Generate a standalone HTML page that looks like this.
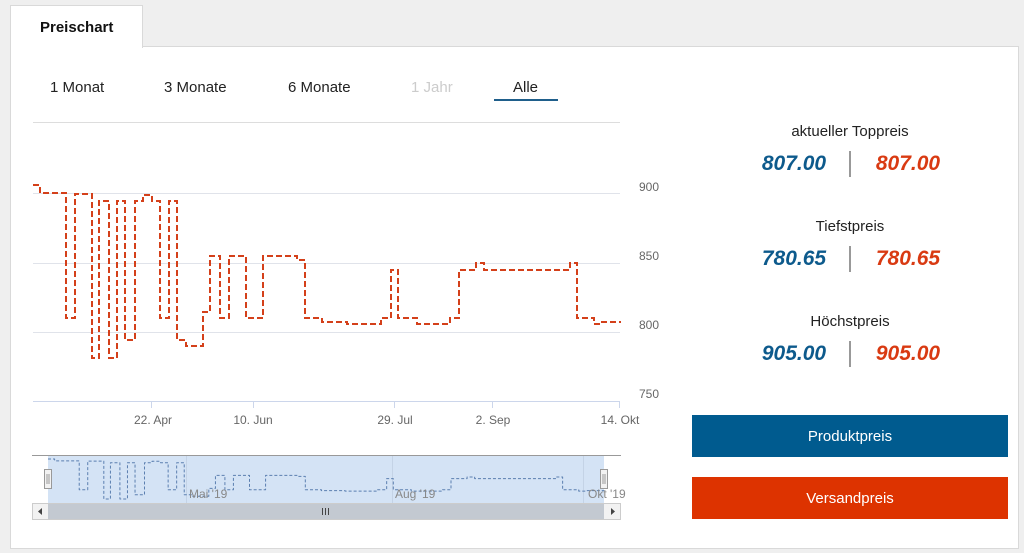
<!DOCTYPE html>
<html><head><meta charset="utf-8">
<style>
body{margin:0;width:1024px;height:553px;background:#efefef;font-family:"Liberation Sans",sans-serif;position:relative;overflow:hidden}
.panel{position:absolute;left:10px;top:46px;width:1007px;height:501px;background:#fff;border:1px solid #d9d9d9}
.tab{position:absolute;left:10px;top:5px;width:131px;height:42px;background:#fff;border:1px solid #d9d9d9;border-bottom:none;z-index:2}
.tab span{position:absolute;left:29px;top:13px;font-weight:bold;font-size:15px;color:#111}
.r{position:absolute;top:79px;font-size:15px;color:#222}
.lbl{position:absolute;width:200px;left:750px;text-align:center;font-size:15px;color:#222}
.val{position:absolute;font-size:21px;font-weight:bold;font-style:italic;width:120px;text-align:center}
.sep{position:absolute;left:849px;width:2px;height:26px;background:#999}
.btn{position:absolute;left:692px;width:316px;height:42px;color:#fff;font-size:15px;text-align:center;line-height:44px}
</style></head><body>
<div class="panel"></div>
<div class="tab"><span>Preischart</span></div>
<div class="r" style="left:50px">1 Monat</div>
<div class="r" style="left:164px">3 Monate</div>
<div class="r" style="left:288px">6 Monate</div>
<div class="r" style="left:411px;color:#ccc">1 Jahr</div>
<div class="r" style="left:513px">Alle</div>
<div style="position:absolute;left:494px;top:99px;width:64px;height:2px;background:#1f5f8b"></div>

<svg width="1024" height="553" style="position:absolute;left:0;top:0" font-family="Liberation Sans, sans-serif">
<line x1="33" y1="122.5" x2="620" y2="122.5" stroke="#ddd"/>
<g stroke="#e0e3ea" stroke-width="1">
<line x1="33" y1="193.5" x2="620" y2="193.5"/>
<line x1="33" y1="263.5" x2="620" y2="263.5"/>
<line x1="33" y1="332.5" x2="620" y2="332.5"/>
</g>
<line x1="33" y1="401.5" x2="620" y2="401.5" stroke="#ccd6eb"/>
<g stroke="#ccd6eb"><line x1="151.5" y1="402" x2="151.5" y2="408"/><line x1="253.5" y1="402" x2="253.5" y2="408"/><line x1="394.5" y1="402" x2="394.5" y2="408"/><line x1="492.5" y1="402" x2="492.5" y2="408"/><line x1="619.5" y1="402" x2="619.5" y2="408"/></g>
<g font-size="12" fill="#666">
<text x="639" y="191">900</text><text x="639" y="260">850</text><text x="639" y="329">800</text><text x="639" y="398">750</text>
<text x="153" y="424" text-anchor="middle">22. Apr</text>
<text x="253" y="424" text-anchor="middle">10. Jun</text>
<text x="395" y="424" text-anchor="middle">29. Jul</text>
<text x="493" y="424" text-anchor="middle">2. Sep</text>
<text x="620" y="424" text-anchor="middle">14. Okt</text>
</g>
<path fill="none" stroke="#d4401a" stroke-width="2" stroke-dasharray="6,3" d="M33,185 H40 V193 H66 V318 H75 V194 H92 V358 H99 V201 H109 V358 H117 V201 H125 V340 H135 V201 H143 V195 H152 V201 H160 V318 H169 V201 H177 V340 H186 V346 H203 V312 H210 V256 H220 V318 H229 V256 H246 V318 H263 V256 H297 V260 H305 V318 H322 V322 H347 V324 H381 V318 H391 V270 H398 V318 H417 V324 H450 V318 H459 V270 H476 V263 H484 V270 H570 V263 H577 V318 H594 V324 H602 V322 H621"/>

<line x1="32" y1="455.5" x2="621" y2="455.5" stroke="#999"/>
<rect x="48" y="456" width="556" height="47" fill="#d4e3f5"/>
<g stroke="#c4d3e6"><line x1="186.5" y1="456" x2="186.5" y2="503"/><line x1="392.5" y1="456" x2="392.5" y2="503"/><line x1="583.5" y1="456" x2="583.5" y2="503"/></g>
<g transform="translate(48 459) scale(0.946 0.231) translate(-33 -185)">
<path fill="none" stroke="#5b7fb0" stroke-width="1" stroke-dasharray="3,2" stroke-linejoin="round" vector-effect="non-scaling-stroke" d="M33,185 H40 V193 H66 V318 H75 V194 H92 V358 H99 V201 H109 V358 H117 V201 H125 V340 H135 V201 H143 V195 H152 V201 H160 V318 H169 V201 H177 V340 H186 V346 H203 V312 H210 V256 H220 V318 H229 V256 H246 V318 H263 V256 H297 V260 H305 V318 H322 V322 H347 V324 H381 V318 H391 V270 H398 V318 H417 V324 H450 V318 H459 V270 H476 V263 H484 V270 H570 V263 H577 V318 H594 V324 H602 V322 H621"/>
</g>
<g font-size="12" fill="#888"><text x="189" y="498">Mai '19</text><text x="395" y="498">Aug '19</text><text x="588" y="498">Okt '19</text></g>
<rect x="44.5" y="469.5" width="7" height="19" fill="#f2f2f2" stroke="#999"/>
<rect x="600.5" y="469.5" width="7" height="19" fill="#f2f2f2" stroke="#999"/>
<g stroke="#999"><line x1="47" y1="474" x2="47" y2="484"/><line x1="49" y1="474" x2="49" y2="484"/><line x1="603" y1="474" x2="603" y2="484"/><line x1="605" y1="474" x2="605" y2="484"/></g>
<rect x="32.5" y="503.5" width="588" height="16" fill="#f2f2f2" stroke="#ccc"/>
<rect x="48" y="504" width="556" height="15" fill="#c3c9d1"/>
<g stroke="#444"><line x1="322.5" y1="508" x2="322.5" y2="515"/><line x1="325.5" y1="508" x2="325.5" y2="515"/><line x1="328.5" y1="508" x2="328.5" y2="515"/></g>
<path d="M42,508 L38,511.5 L42,515Z" fill="#444"/><path d="M611,508 L615,511.5 L611,515Z" fill="#444"/>
</svg>

<div class="lbl" style="top:123px">aktueller Toppreis</div>
<div class="val" style="left:734px;top:152px;color:#0d5a8c">807.00</div>
<div class="sep" style="top:151px"></div>
<div class="val" style="left:848px;top:152px;color:#d93a12">807.00</div>
<div class="lbl" style="top:218px">Tiefstpreis</div>
<div class="val" style="left:734px;top:247px;color:#0d5a8c">780.65</div>
<div class="sep" style="top:246px"></div>
<div class="val" style="left:848px;top:247px;color:#d93a12">780.65</div>
<div class="lbl" style="top:313px">Höchstpreis</div>
<div class="val" style="left:734px;top:342px;color:#0d5a8c">905.00</div>
<div class="sep" style="top:341px"></div>
<div class="val" style="left:848px;top:342px;color:#d93a12">905.00</div>
<div class="btn" style="top:415px;background:#005b8f">Produktpreis</div>
<div class="btn" style="top:477px;background:#dd3300">Versandpreis</div>
</body></html>
